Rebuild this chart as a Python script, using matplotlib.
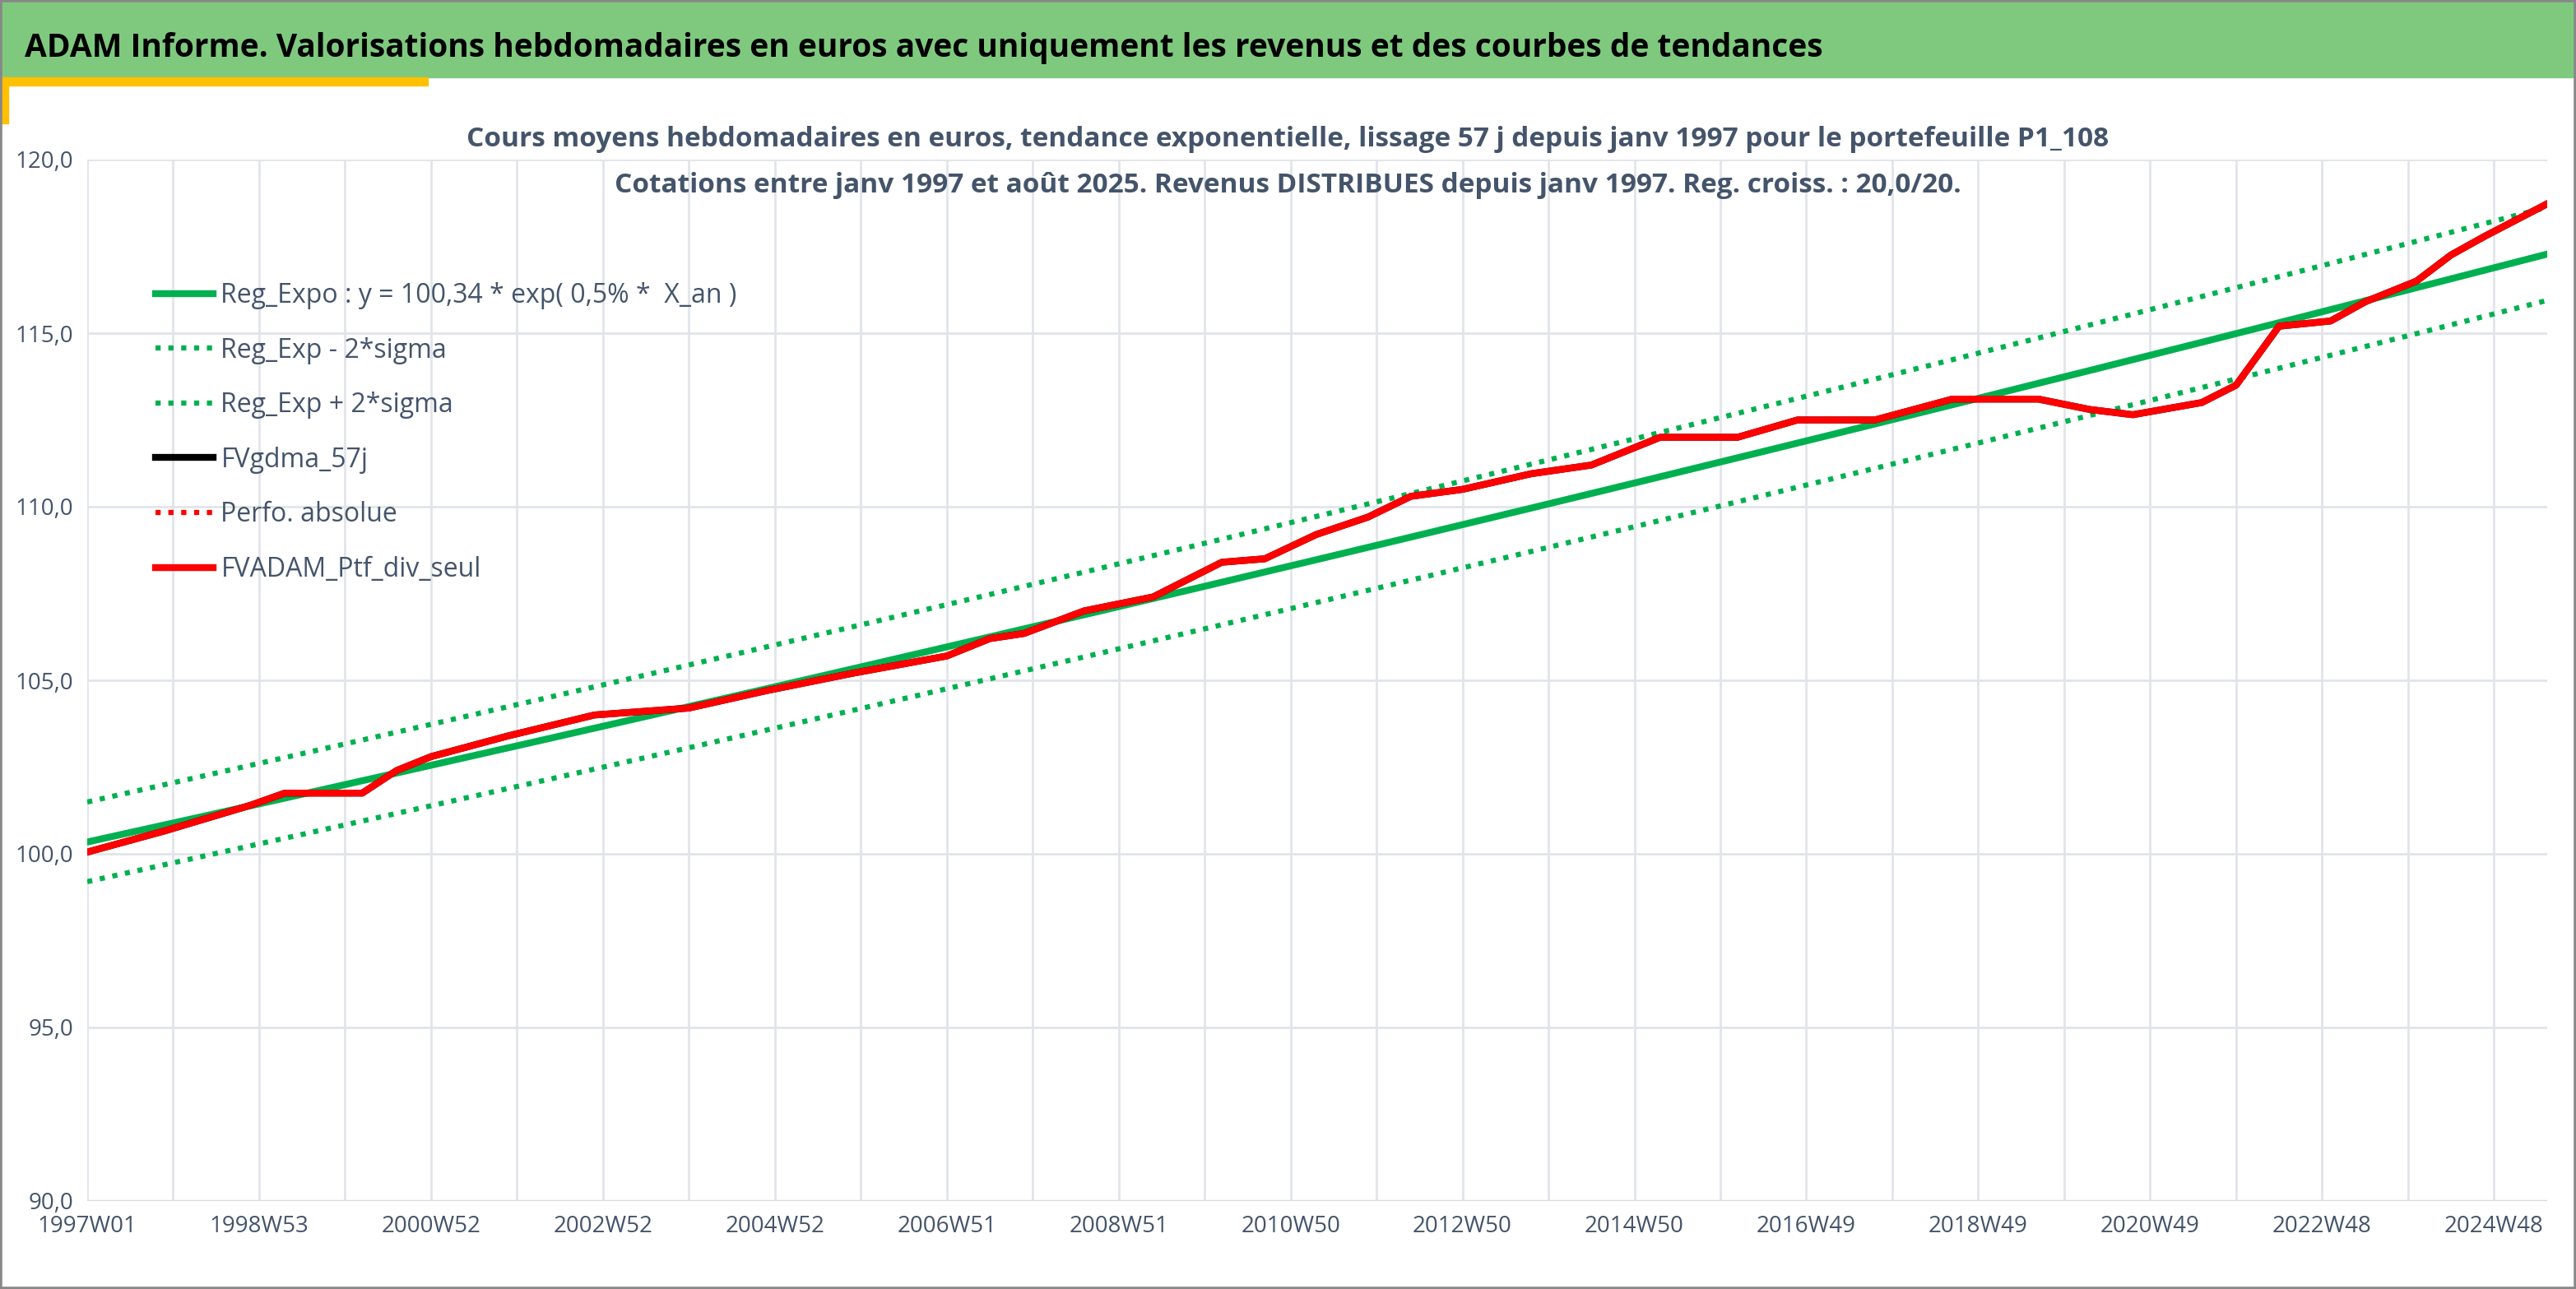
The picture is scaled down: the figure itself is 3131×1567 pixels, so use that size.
import numpy as np
import matplotlib
matplotlib.use("Agg")
import matplotlib.pyplot as plt
from matplotlib.patches import Rectangle

plt.rcParams['font.family'] = ['Open Sans', 'DejaVu Sans']

years = [1997.0, 1997.9, 1998.9, 1999.3, 2000.2, 2000.6, 2001.0, 2001.9, 2002.9, 2004.0,
         2004.9, 2005.9, 2007.0, 2007.5, 2007.9, 2008.6, 2009.4, 2010.2, 2010.7, 2011.3,
         2011.9, 2012.4, 2013.0, 2013.8, 2014.5, 2015.3, 2016.2, 2016.9, 2017.8, 2018.7,
         2019.7, 2020.3, 2020.8, 2021.6, 2022.0, 2022.5, 2023.1, 2023.5, 2024.1, 2024.5,
         2024.9, 2025.6]
values = [100.05, 100.66, 101.4, 101.75, 101.75, 102.4, 102.8, 103.4, 104.0, 104.2,
          104.7, 105.2, 105.7, 106.2, 106.35, 107.0, 107.4, 108.4, 108.5, 109.2,
          109.7, 110.3, 110.5, 110.95, 111.2, 112.0, 112.0, 112.5, 112.5, 113.1,
          113.1, 112.8, 112.65, 113.0, 113.5, 115.2, 115.35, 115.9, 116.5, 117.25,
          117.8, 118.7]
tick_labels = ['1997W01', '1998W53', '2000W52', '2002W52', '2004W52', '2006W51', '2008W51',
               '2010W50', '2012W50', '2014W50', '2016W49', '2018W49', '2020W49', '2022W48', '2024W48']
reg_a, reg_b, band = 100.34, 0.00545, 1.0115

fig = plt.figure(figsize=(31.31, 15.67), dpi=100)
fig.patch.set_facecolor('white')
fig.add_artist(Rectangle((0, 1 - 94/1567), 1, 94/1567, transform=fig.transFigure, color='#7FC97F', zorder=0))
fig.add_artist(Rectangle((0, 1 - 104/1567), 520/3131, 10/1567, transform=fig.transFigure, color='#FFC000'))
fig.add_artist(Rectangle((0, 1 - 150/1567), 10/3131, 56/1567, transform=fig.transFigure, color='#FFC000'))
fig.add_artist(Rectangle((0, 0), 1, 1, transform=fig.transFigure, fill=False, ec='#888888', lw=4))
fig.text(30/3131, 1 - 58/1567, "ADAM Informe. Valorisations hebdomadaires en euros avec uniquement les revenus et des courbes de tendances",
         fontsize=28, fontweight='bold', va='center', ha='left', color='black')

ax = fig.add_axes([106/3131, 107/1567, (3096-106)/3131, (1460-194)/1567])
x0, x1 = 1997.0, 2025.62
t = np.linspace(x0, x1, 200)
reg = reg_a * np.exp(reg_b * (t - x0))
ax.plot(t, reg, color='#00B050', lw=6, label='Reg_Expo : y = 100,34 * exp( 0,5% *  X_an )', zorder=3)
ax.plot(t, reg / band, color='#00B050', lw=4.5, ls=(0, (1, 1.5)), label='Reg_Exp - 2*sigma', zorder=3)
ax.plot(t, reg * band, color='#00B050', lw=4.5, ls=(0, (1, 1.5)), label='Reg_Exp + 2*sigma', zorder=3)
ax.plot(years, values, color='black', lw=6, label='FVgdma_57j', zorder=4)
ax.plot(years, values, color='#FF0000', lw=4.5, ls=(0, (1, 1.5)), label='Perfo. absolue', zorder=5)
ax.plot(years, values, color='#FF0000', lw=6, label='FVADAM_Ptf_div_seul', zorder=5)

ax.set_xlim(x0, x1)
ax.set_ylim(90, 120)
yt = np.arange(90, 121, 5)
ax.set_yticks(yt)
ax.set_yticklabels([f"{v:.1f}".replace('.', ',') for v in yt])
ax.set_xticks([1997 + 2 * k for k in range(len(tick_labels))])
ax.set_xticklabels(tick_labels)
ax.set_xticks([1998 + 2 * k for k in range(14)], minor=True)
ax.grid(True, which='both', axis='x', color='#E1E5EA', lw=2)
ax.grid(True, which='major', axis='y', color='#E1E5EA', lw=2)
ax.tick_params(axis='both', which='both', length=0, labelsize=20, colors='#44546A', pad=12)
for s in ax.spines.values():
    s.set_visible(False)
ax.axhline(90, color='#D9D9D9', lw=2.5)

fig.text(0.5, 1 - 170/1567, "Cours moyens hebdomadaires en euros, tendance exponentielle, lissage 57 j depuis janv 1997 pour le portefeuille P1_108",
         fontsize=24, fontweight='bold', ha='center', va='center', color='#44546A')
fig.text(0.5, 1 - 226/1567, "Cotations entre janv 1997 et août 2025. Revenus DISTRIBUES depuis janv 1997. Reg. croiss. : 20,0/20.",
         fontsize=24, fontweight='bold', ha='center', va='center', color='#44546A')

leg = ax.legend(loc='upper left', bbox_to_anchor=(0.018, 0.905), frameon=False, fontsize=23,
                handlelength=2.2, labelspacing=1.05, labelcolor='#44546A', borderaxespad=0.5,
                handletextpad=0.3)
fig.savefig('out.png', dpi=100)
